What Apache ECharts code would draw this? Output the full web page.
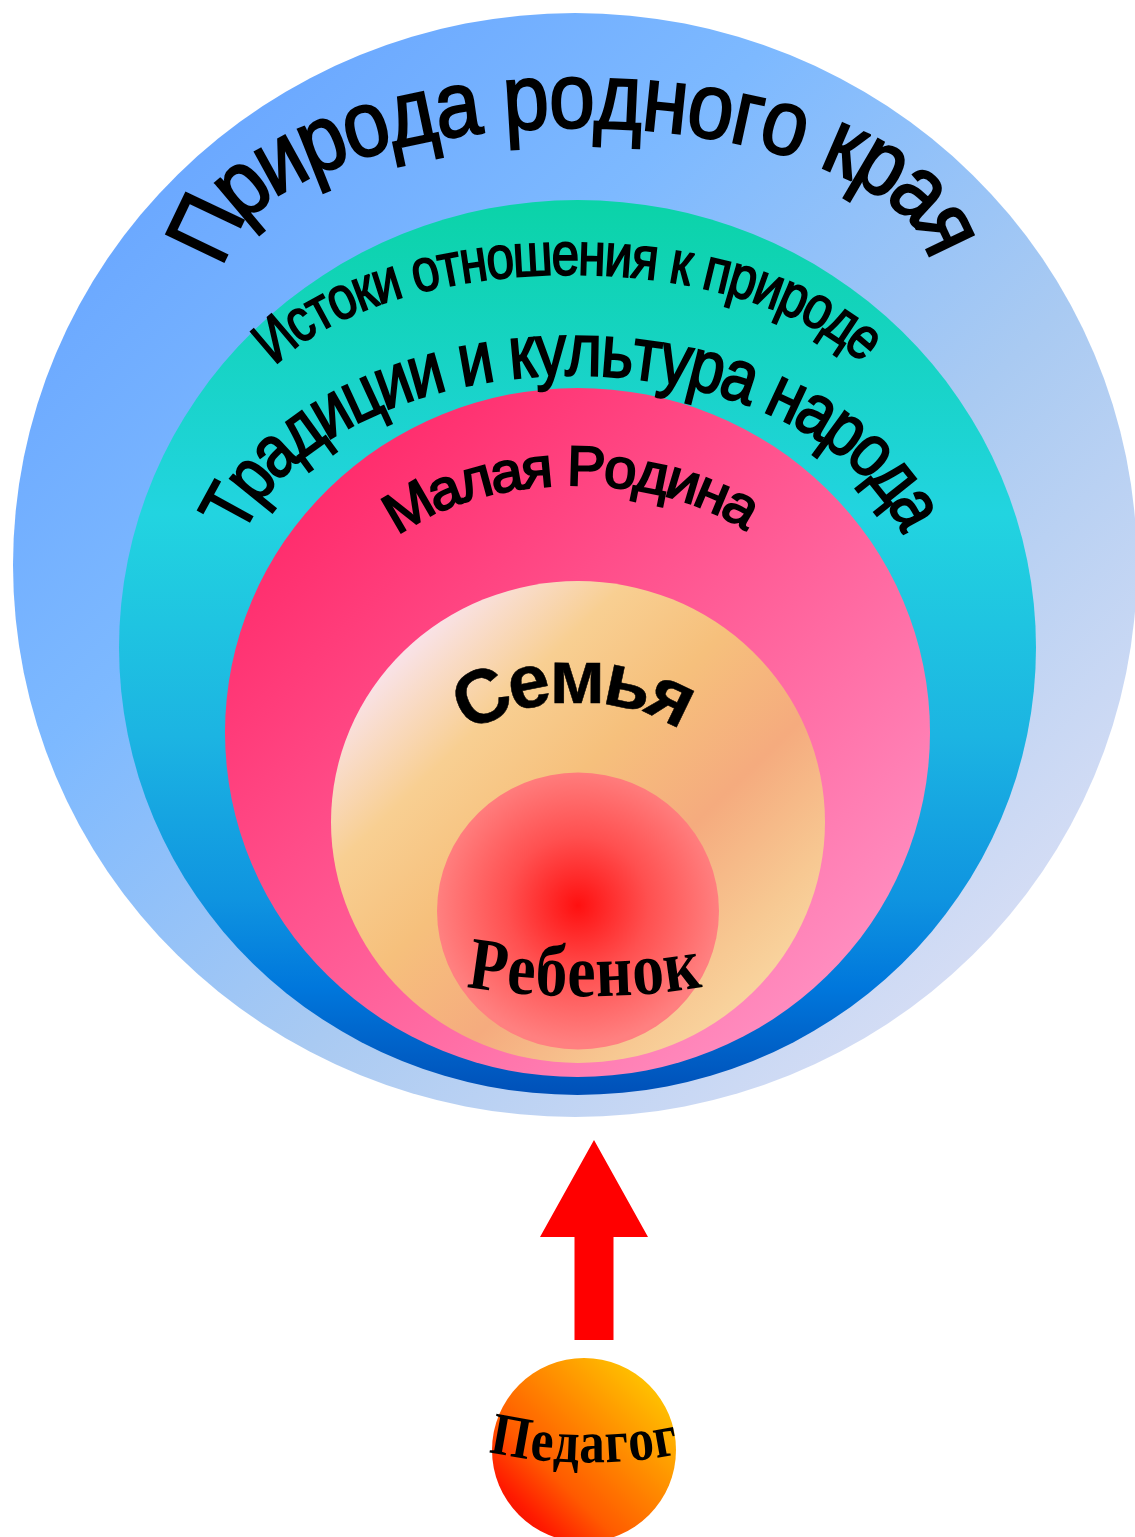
<!DOCTYPE html>
<html><head><meta charset="utf-8">
<script src="https://cdn.jsdelivr.net/npm/echarts@6/dist/echarts.min.js"></script>
<style>html,body{margin:0;padding:0;background:#fff}#chart{width:1135px;height:1537px}</style>
</head><body><div id="chart"></div>
<script>
// ---- data: nested circles (centre x, centre y, radius x, radius y) ----
const circleNames = ['Природа родного края', 'Истоки / Традиции', 'Малая Родина', 'Семья', 'Ребенок', 'Педагог'];
const circleCX = [575, 577.5, 577.5, 578, 578, 584];
const circleCY = [565, 647.5, 732.5, 822, 911, 1450];
const circleRX = [562, 458.5, 352.5, 247, 141, 92];
const circleRY = [552, 447.5, 344.5, 241, 138.5, 92];

// ---- data: curved labels (text along an elliptic arc) ----
const labelTexts = ['Природа родного края', 'Истоки отношения к природе', 'Традиции и культура народа', 'Малая Родина', 'Семья', 'Ребенок', 'Педагог'];
const labelArcCX = [578, 570, 573, 575, 577, 585, 588];
const labelArcCY = [262, 428, 585, 600, 757, 937, 1402];
const labelArcA = [375, 340, 360, 230, 140, 180, 150];
const labelArcB = [160, 170, 230, 130, 75, 40, 45];
const labelArcFrom = [-78.5, -59.5, -70.8, -45.8, -42, -32.6, -30.9];
const labelArcTo = [78.5, 59.5, 70.8, 45.8, 42, 32.6, 30.9];
const labelArcDir = [1, 1, 1, 1, 1, -1, -1]; // 1 = arch up, -1 = smile

// ---- data: arrow (centre x, tip y, head base y, shaft bottom y, head half width, shaft half width) ----
const arrowData = [[594, 1140, 1237, 1340, 54, 19.5]];

// ---- styles ----
const labelFonts = [
  {family: "'Liberation Sans', Arial, sans-serif", weight: 'normal', size: 86, scaleY: 1.08, widen: 1.0, stroke: 2},
  {family: "'Liberation Sans', Arial, sans-serif", weight: 'normal', size: 50, scaleY: 1.2, widen: 1.03, stroke: 1.5},
  {family: "'Liberation Sans', Arial, sans-serif", weight: 'normal', size: 64, scaleY: 1.15, widen: 1.03, stroke: 1.8},
  {family: "'Liberation Sans', Arial, sans-serif", weight: 'normal', size: 50, scaleY: 1.12, widen: 1.04, stroke: 1.8},
  {family: "'Liberation Sans', Arial, sans-serif", weight: 'bold', size: 76, scaleY: 1.0, widen: 1.0, stroke: 0.5},
  {family: "'Liberation Serif', 'Times New Roman', serif", weight: 'bold', size: 62, scaleY: 1.2, widen: 1.0, stroke: 0},
  {family: "'Liberation Serif', 'Times New Roman', serif", weight: 'bold', size: 48, scaleY: 1.25, widen: 1.0, stroke: 0}
];
function lin(x, y, x2, y2, stops) {
  return {type: 'linear', x: x, y: y, x2: x2, y2: y2, colorStops: stops.map(s => ({offset: s[0], color: s[1]}))};
}
const circleFills = [
  lin(0, 0, 1, 1, [[0, '#5f9dff'], [0.35, '#7db9ff'], [0.6, '#a9caf2'], [1, '#ece7f6']]),
  lin(0, 0, 0, 1, [[0, '#0bd3a8'], [0.35, '#22d4e0'], [0.6, '#1cb4e2'], [0.78, '#0f94e0'], [0.88, '#0077dc'], [1, '#0050b8']]),
  lin(0, 0, 1, 1, [[0, '#ff1a5c'], [0.45, '#ff5590'], [1, '#ffa0d0']]),
  lin(0, 0, 1, 1, [[0, '#fdf2fd'], [0.15, '#f9e2e6'], [0.3, '#f8cf92'], [0.45, '#f6c07c'], [0.62, '#f5ab7e'], [0.78, '#f7c892'], [1, '#fbe9b4']]),
  {type: 'radial', x: 0.5, y: 0.48, r: 0.5, colorStops: [{offset: 0, color: '#ff1010'}, {offset: 0.5, color: '#ff5050'}, {offset: 1, color: '#ff8080'}]},
  lin(1, 0, 0, 1, [[0, '#ffdd00'], [0.4, '#ff8c00'], [0.65, '#ff5a00'], [0.82, '#ff1a00'], [1, '#d80000']])
];

const measureCtx = document.createElement('canvas').getContext('2d');

function renderCircle(params, api) {
  const i = params.dataIndex;
  const c = api.coord([api.value(0), api.value(1)]);
  const s = api.size([api.value(2), api.value(3)]);
  const rx = Math.abs(s[0]), ry = Math.abs(s[1]);
  return {type: 'circle', x: c[0], y: c[1], scaleX: rx / ry, shape: {cx: 0, cy: 0, r: ry}, style: {fill: circleFills[i]}};
}

function renderArrow(params, api) {
  const cx = api.value(0), tip = api.value(1), base = api.value(2), bottom = api.value(3), hw = api.value(4), sw = api.value(5);
  const pts = [[cx, tip], [cx + hw, base], [cx + sw, base], [cx + sw, bottom], [cx - sw, bottom], [cx - sw, base], [cx - hw, base]].map(p => api.coord(p));
  return {type: 'polygon', shape: {points: pts}, style: {fill: '#ff0000'}};
}

function renderArcText(params, api) {
  const i = params.dataIndex;
  const f = labelFonts[i];
  const c = api.coord([api.value(0), api.value(1)]);
  const sz = api.size([api.value(2), api.value(3)]);
  const a = Math.abs(sz[0]), b = Math.abs(sz[1]);
  const dir = api.value(6);
  const t0 = api.value(4) * Math.PI / 180, t1 = api.value(5) * Math.PI / 180;
  const pt = t => [c[0] + a * Math.sin(t), c[1] - dir * b * Math.cos(t)];
  const N = 3000, ts = [], ss = [];
  let s = 0, prev = pt(t0);
  for (let k = 0; k <= N; k++) {
    const t = t0 + (t1 - t0) * k / N;
    const p = pt(t);
    s += Math.hypot(p[0] - prev[0], p[1] - prev[1]);
    prev = p; ts.push(t); ss.push(s);
  }
  const L = s;
  const font = f.weight + ' ' + f.size + 'px ' + f.family;
  measureCtx.font = font;
  const chars = Array.from(labelTexts[i]);
  const w = chars.map(ch => measureCtx.measureText(ch).width);
  const total = w.reduce((x, y) => x + y, 0);
  const D = total - w[0] / 2 - w[w.length - 1] / 2;
  const kx = L / D;
  const children = [];
  let cum = 0, idx = 0;
  chars.forEach((ch, j) => {
    const target = (cum + w[j] / 2 - w[0] / 2) * kx;
    cum += w[j];
    while (idx < N && ss[idx] < target) idx++;
    const t = ts[idx];
    const p = pt(t);
    const rot = Math.atan2(-dir * b * Math.sin(t), a * Math.cos(t));
    if (ch === ' ') return;
    const st = {text: ch, font: font, fill: '#000', align: 'center', verticalAlign: 'middle'};
    if (f.stroke > 0) { st.stroke = '#000'; st.lineWidth = f.stroke; }
    children.push({type: 'text', x: p[0], y: p[1], rotation: rot, scaleX: kx * f.widen, scaleY: f.scaleY, style: st});
  });
  return {type: 'group', children: children};
}

const chart = echarts.init(document.getElementById('chart'), null, {renderer: 'canvas'});
chart.setOption({
  animation: false,
  backgroundColor: '#ffffff',
  grid: {left: 0, right: 0, top: 0, bottom: 0},
  xAxis: {type: 'value', min: 0, max: 1135, show: false},
  yAxis: {type: 'value', min: 0, max: 1537, inverse: true, show: false},
  series: [
    {type: 'custom', name: 'circles', z: 1, clip: false, renderItem: renderCircle,
      data: circleNames.map((n, i) => ({name: n, value: [circleCX[i], circleCY[i], circleRX[i], circleRY[i]]}))},
    {type: 'custom', name: 'arrow', z: 2, clip: false, renderItem: renderArrow, data: arrowData},
    {type: 'custom', name: 'labels', z: 3, clip: false, renderItem: renderArcText,
      data: labelTexts.map((n, i) => ({name: n, value: [labelArcCX[i], labelArcCY[i], labelArcA[i], labelArcB[i], labelArcFrom[i], labelArcTo[i], labelArcDir[i]]}))}
  ]
});
</script></body></html>
